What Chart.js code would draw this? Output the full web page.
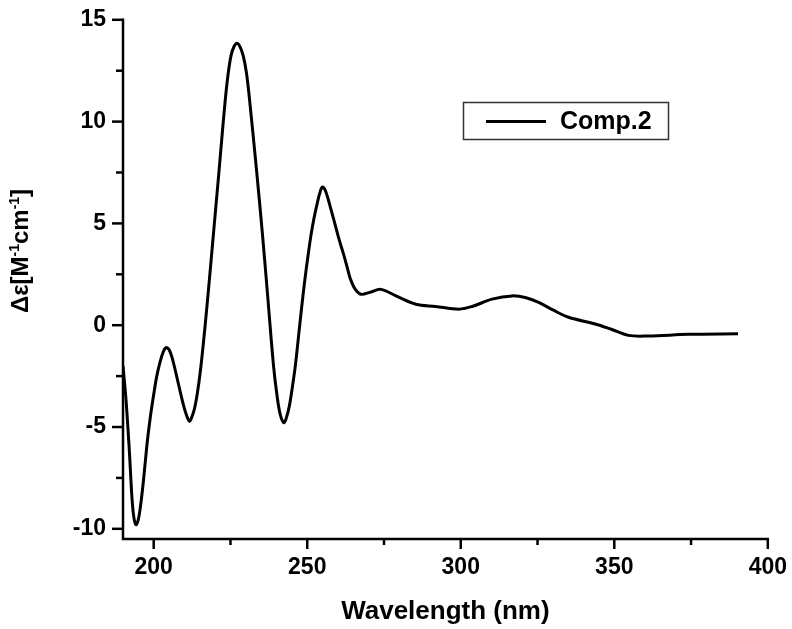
<!DOCTYPE html>
<html>
<head>
<meta charset="utf-8">
<script src="https://cdn.jsdelivr.net/npm/chart.js@4/dist/chart.umd.min.js"></script>
<style>
  html, body { margin: 0; padding: 0; background: #fff; }
</style>
</head>
<body>
<canvas id="cdChart" width="792" height="629"></canvas>
<script>
// CD spectrum of Comp.2
const wavelength = [
  190, 191, 192, 192.9, 193.5, 194.2, 194.9, 195.6, 196.4, 197.2, 198, 199, 200, 201, 202, 203, 204,
  205, 206, 207, 208, 209, 210, 211, 211.7, 212.2, 213.2, 214.2, 215.2, 216.2, 217.2, 218.2,
  219.2, 220.2, 221.2, 222.2, 223.2, 224.2, 225.2, 226.2, 227.2, 228.2, 229.2, 230.2, 231.2,
  233.4, 235.4, 237.2, 239.0, 240.2, 241.2, 242.4, 243.3, 244.2, 245.2, 246.2, 247.2, 248.2,
  249.2, 250.2, 251.2, 252.2, 253.2, 254.1, 254.9, 255.8, 256.8, 257.8, 258.8, 260.3, 261.8,
  263, 264, 265.5, 267.5, 270.5, 274, 278.9, 285.4, 291.8, 299.4, 303.7, 310.2, 316.7, 321,
  325.4, 330, 335.1, 343.8, 349, 354.6, 361.1, 374.1, 390.3
];
const deltaEps = [
  -2.0, -3.7, -6.0, -8.43, -9.4, -9.8, -9.6, -9.0, -8.0, -6.8, -5.6, -4.4, -3.4, -2.5, -1.85, -1.35, -1.1,
  -1.2, -1.6, -2.2, -2.85, -3.5, -4.1, -4.55, -4.72, -4.6, -4.15, -3.35, -2.25, -0.85, 0.7, 2.35,
  4.05, 5.75, 7.45, 9.2, 10.9, 12.3, 13.25, 13.7, 13.85, 13.65, 13.2, 12.4, 11.1,
  7.75, 4.5, 1.28, -1.96, -3.5, -4.38, -4.79, -4.5, -3.95, -3.0, -1.9, -0.5, 0.9,
  2.2, 3.35, 4.4, 5.25, 5.95, 6.5, 6.78, 6.65, 6.2, 5.65, 5.1, 4.25, 3.5,
  2.85, 2.3, 1.8, 1.52, 1.62, 1.76, 1.44, 1.03, 0.92, 0.79, 0.92, 1.28, 1.44, 1.36,
  1.12, 0.75, 0.39, 0.06, -0.2, -0.5, -0.53, -0.45, -0.42
];

const xMajorTicks = [200, 250, 300, 350, 400];
const xMinorTicks = [225, 275, 325, 375];
const yMajorTicks = [-10, -5, 0, 5, 10, 15];
const yMinorTicks = [-7.5, -2.5, 2.5, 7.5, 12.5];

const seriesLabel = 'Comp.2';
const xTitle = 'Wavelength (nm)';
const yTitleParts = [
  { text: 'Δε[M', sup: false },
  { text: '-1', sup: true },
  { text: 'cm', sup: false },
  { text: '-1', sup: true },
  { text: ']', sup: false }
];

const FONT = 'Arial, "Liberation Sans", sans-serif';

const originFrame = {
  id: 'originFrame',
  afterDraw(chart) {
    const { ctx, chartArea: area, scales: { x, y } } = chart;
    ctx.save();
    ctx.strokeStyle = '#000';
    ctx.lineWidth = 2.5;
    ctx.lineCap = 'square';

    // axis lines
    ctx.beginPath();
    ctx.moveTo(area.left, area.top);
    ctx.lineTo(area.left, area.bottom);
    ctx.lineTo(area.right, area.bottom);
    ctx.stroke();

    // ticks, pointing out
    ctx.lineCap = 'butt';
    const tick = (v, len, horiz) => {
      ctx.beginPath();
      if (horiz) {
        const px = x.getPixelForValue(v);
        ctx.moveTo(px, area.bottom);
        ctx.lineTo(px, area.bottom + len);
      } else {
        const py = y.getPixelForValue(v);
        ctx.moveTo(area.left, py);
        ctx.lineTo(area.left - len, py);
      }
      ctx.stroke();
    };
    xMajorTicks.forEach(v => tick(v, 10, true));
    xMinorTicks.forEach(v => tick(v, 6, true));
    yMajorTicks.forEach(v => tick(v, 11, false));
    yMinorTicks.forEach(v => tick(v, 7, false));

    // y title with superscripts
    const big = 'bold 24px ' + FONT;
    const small = 'bold 14px ' + FONT;
    let total = 0;
    yTitleParts.forEach(p => {
      ctx.font = p.sup ? small : big;
      p.w = ctx.measureText(p.text).width;
      total += p.w;
    });
    ctx.translate(28, 251 + total / 2);
    ctx.rotate(-Math.PI / 2);
    ctx.fillStyle = '#000';
    ctx.textBaseline = 'alphabetic';
    ctx.textAlign = 'left';
    let cx = 0;
    yTitleParts.forEach(p => {
      ctx.font = p.sup ? small : big;
      ctx.fillText(p.text, cx, p.sup ? -9 : 0);
      cx += p.w;
    });
    ctx.restore();

    // legend box
    ctx.save();
    const ds = chart.data.datasets[0];
    ctx.strokeStyle = '#333';
    ctx.lineWidth = 1.5;
    ctx.strokeRect(463.5, 102.5, 205, 37);
    ctx.strokeStyle = ds.borderColor;
    ctx.lineWidth = 3;
    ctx.beginPath();
    ctx.moveTo(486, 121.5);
    ctx.lineTo(546, 121.5);
    ctx.stroke();
    ctx.fillStyle = '#000';
    ctx.font = 'bold 25px ' + FONT;
    ctx.textBaseline = 'middle';
    ctx.fillText(ds.label, 560, 122);
    ctx.restore();
  }
};

new Chart(document.getElementById('cdChart'), {
  type: 'line',
  data: {
    datasets: [{
      label: seriesLabel,
      data: wavelength.map((w, i) => ({ x: w, y: deltaEps[i] })),
      borderColor: '#000',
      borderWidth: 3,
      pointRadius: 0,
      fill: false,
      tension: 0.35
    }]
  },
  options: {
    responsive: false,
    animation: false,
    layout: { padding: { top: 14, right: 23, left: 0, bottom: 0 } },
    plugins: {
      legend: { display: false },
      tooltip: { enabled: false }
    },
    scales: {
      x: {
        type: 'linear',
        min: 190,
        max: 400,
        afterBuildTicks: s => { s.ticks = xMajorTicks.map(v => ({ value: v })); },
        afterFit: s => { s.height = 90; },
        ticks: {
          color: '#000',
          font: { family: FONT, size: 23, weight: 'bold' },
          padding: 5,
          maxRotation: 0,
          autoSkip: false
        },
        grid: { drawOnChartArea: false, tickLength: 10, tickColor: 'rgba(0,0,0,0)' },
        border: { display: false },
        title: {
          display: true,
          text: xTitle,
          color: '#000',
          font: { family: FONT, size: 26, weight: 'bold' },
          padding: { top: 0, bottom: 2 }
        }
      },
      y: {
        min: -10.5,
        max: 15,
        afterBuildTicks: s => { s.ticks = yMajorTicks.map(v => ({ value: v })); },
        afterFit: s => { s.width = 123; },
        ticks: {
          color: '#000',
          font: { family: FONT, size: 23, weight: 'bold' },
          padding: 6
        },
        grid: { drawOnChartArea: false, tickLength: 11, tickColor: 'rgba(0,0,0,0)' },
        border: { display: false }
      }
    }
  },
  plugins: [originFrame]
});
</script>
</body>
</html>
